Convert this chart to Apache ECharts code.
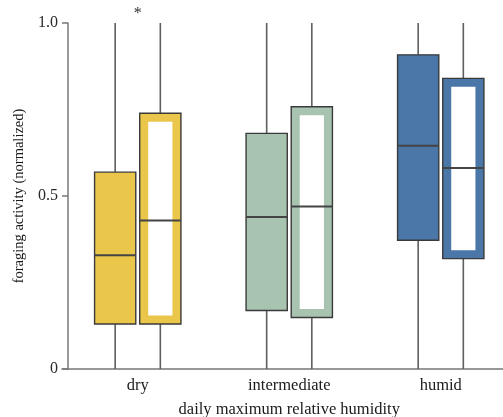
<!DOCTYPE html>
<html>
<head>
<meta charset="utf-8">
<script src="https://cdn.jsdelivr.net/npm/echarts@6/dist/echarts.min.js"></script>
<style>
  html, body { margin: 0; padding: 0; background: #fff; }
  #chart { width: 503px; height: 417px; }
</style>
</head>
<body>
<div id="chart"></div>
<script>
// Humidity classes on the x axis
const categories = ['dry', 'intermediate', 'humid'];
const yTicks = [0, 0.5, 1.0];

// Box statistics per class: [min, Q1, median, Q3, max]
const filledBoxes = [
  [0, 0.130, 0.329, 0.569, 1.0],
  [0, 0.169, 0.439, 0.681, 1.0],
  [0, 0.372, 0.645, 0.908, 1.0]
];
const hollowBoxes = [
  [0, 0.130, 0.429, 0.739, 1.0],
  [0, 0.149, 0.470, 0.758, 1.0],
  [0, 0.319, 0.581, 0.840, 1.0]
];
const classColors = ['#EAC64A', '#A8C3B0', '#4A76A8'];
const significance = ['*', '', ''];

const FONT = '"Liberation Serif", "DejaVu Serif", serif';

function toRows(boxes) {
  return boxes.map((b, i) => [i].concat(b));
}

function boxRenderer(offsetFrac, hollow) {
  return function (params, api) {
    const idx = api.value(0);
    const band = api.size([1, 0])[0];
    const cx = api.coord([idx, 0])[0] + offsetFrac * band;
    const w = band * 0.272;
    const y = (v) => api.coord([idx, v])[1];
    const yMin = y(api.value(1));
    const yQ1 = y(api.value(2));
    const yMed = y(api.value(3));
    const yQ3 = y(api.value(4));
    const yMax = y(api.value(5));
    const color = classColors[idx];
    const whisker = { stroke: '#5e5e5e', lineWidth: 1.6 };
    const children = [
      { type: 'line', shape: { x1: cx, y1: yMin, x2: cx, y2: yQ1 }, style: whisker },
      { type: 'line', shape: { x1: cx, y1: yQ3, x2: cx, y2: yMax }, style: whisker },
      { type: 'rect', shape: { x: cx - w / 2, y: yQ3, width: w, height: yQ1 - yQ3 },
        style: { fill: color, stroke: '#3a3a3a', lineWidth: 1.4 } }
    ];
    if (hollow) {
      const inset = 8.5;
      children.push({ type: 'rect',
        shape: { x: cx - w / 2 + inset, y: yQ3 + inset, width: w - 2 * inset, height: yQ1 - yQ3 - 2 * inset },
        style: { fill: '#ffffff' } });
    }
    children.push({ type: 'line', shape: { x1: cx - w / 2, y1: yMed, x2: cx + w / 2, y2: yMed },
      style: { stroke: '#444444', lineWidth: 2 } });
    return { type: 'group', children: children };
  };
}

const chart = echarts.init(document.getElementById('chart'), null, { renderer: 'canvas' });
chart.setOption({
  animation: false,
  backgroundColor: '#ffffff',
  grid: { left: 62, width: 454.5, top: 23, height: 346, containLabel: false, outerBoundsMode: 'none' },
  xAxis: {
    type: 'category',
    data: categories,
    boundaryGap: true,
    name: 'daily maximum relative humidity',
    nameLocation: 'middle',
    nameGap: 32,
    nameTextStyle: { fontFamily: FONT, fontSize: 16.5, color: '#1a1a1a' },
    axisLine: { lineStyle: { color: '#777', width: 1.5 } },
    axisTick: { show: false },
    axisLabel: { fontFamily: FONT, fontSize: 16.5, color: '#1a1a1a', margin: 8 },
    splitLine: { show: false }
  },
  yAxis: {
    type: 'value',
    min: 0,
    max: 1,
    interval: 0.5,
    offset: -6,
    name: 'foraging activity (normalized)',
    nameLocation: 'middle',
    nameGap: 38,
    nameTextStyle: { fontFamily: FONT, fontSize: 14.5, color: '#1a1a1a' },
    axisLine: { show: true, lineStyle: { color: '#777', width: 1.5 } },
    axisTick: { show: true, length: 6, lineStyle: { color: '#777', width: 1.5 } },
    axisLabel: {
      fontFamily: FONT, fontSize: 16, color: '#2a2a2a', margin: 10,
      formatter: (v) => {
        const t = yTicks.find((k) => Math.abs(k - v) < 1e-9);
        return t === undefined ? '' : (t === 0 ? '0' : t.toFixed(1));
      }
    },
    splitLine: { show: false }
  },
  series: [
    {
      type: 'custom',
      name: 'filled',
      renderItem: boxRenderer(-0.149, false),
      encode: { x: 0, y: [1, 2, 3, 4, 5] },
      data: toRows(filledBoxes),
      clip: false
    },
    {
      type: 'custom',
      name: 'hollow',
      renderItem: boxRenderer(0.149, true),
      encode: { x: 0, y: [1, 2, 3, 4, 5] },
      data: toRows(hollowBoxes),
      clip: false
    },
    {
      type: 'custom',
      name: 'significance',
      renderItem: function (params, api) {
        const idx = api.value(0);
        const p = api.coord([idx, api.value(1)]);
        return {
          type: 'text',
          x: p[0], y: p[1] - 9,
          style: { text: significance[idx], fontFamily: FONT, fontSize: 16, fill: '#333',
            align: 'center', verticalAlign: 'middle' }
        };
      },
      encode: { x: 0, y: 1 },
      data: categories.map((c, i) => [i, Math.max.apply(null, filledBoxes[i].concat(hollowBoxes[i]))]),
      clip: false
    }
  ]
});
</script>
</body>
</html>
